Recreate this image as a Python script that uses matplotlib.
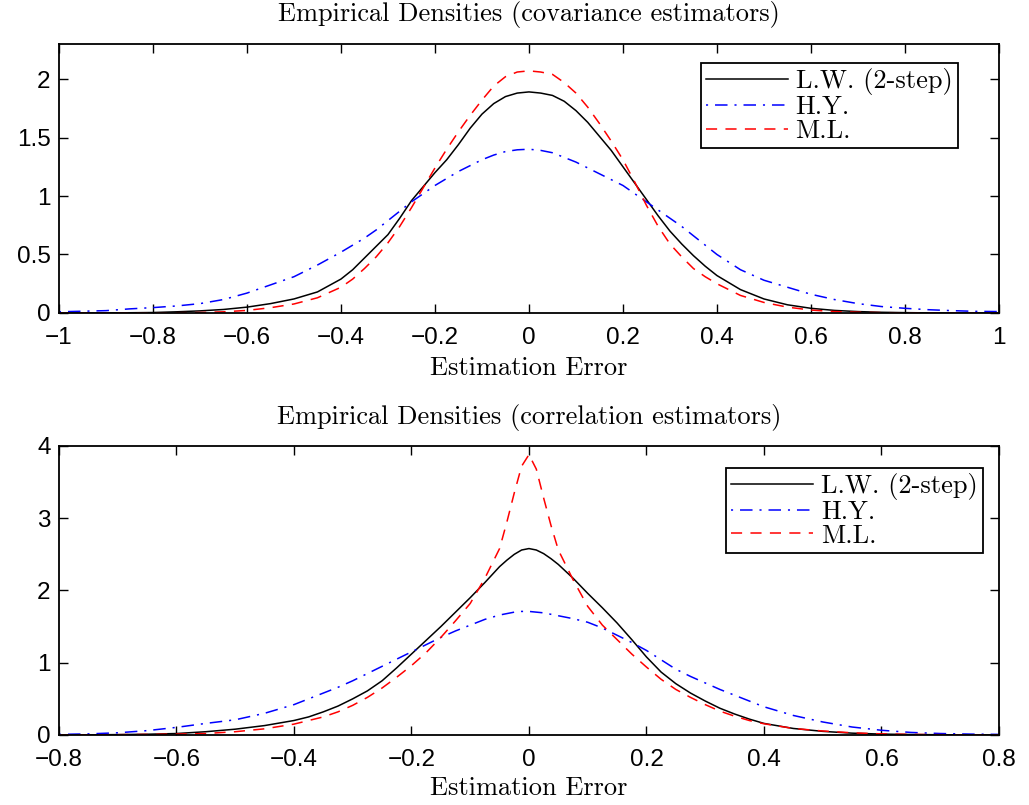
import matplotlib
matplotlib.use("Agg")
import matplotlib.pyplot as plt

# data
x_cov = [-1.0, -0.95, -0.9, -0.85, -0.8, -0.75, -0.7, -0.65, -0.6, -0.55, -0.5, -0.45,
         -0.4, -0.375, -0.35, -0.325, -0.3, -0.275, -0.25, -0.225, -0.2, -0.175,
         -0.15, -0.125, -0.1, -0.075, -0.05, -0.025,
         0.0,
         0.025, 0.05, 0.075, 0.1, 0.125, 0.15, 0.175, 0.2, 0.225, 0.25,
         0.275, 0.3, 0.325, 0.35, 0.375, 0.4,
         0.45, 0.5, 0.55, 0.6, 0.65, 0.7, 0.75, 0.8, 0.85, 0.9, 0.95, 1.0]
lw_cov = [0.0, 0.0, 0.001, 0.002, 0.004, 0.01, 0.018, 0.03, 0.05, 0.08, 0.12, 0.18,
          0.29, 0.37, 0.47, 0.57, 0.67, 0.81, 0.96, 1.08, 1.20, 1.31,
          1.44, 1.58, 1.70, 1.79, 1.85, 1.88,
          1.89,
          1.88, 1.86, 1.81, 1.73, 1.63, 1.51, 1.39, 1.25, 1.11, 0.97,
          0.83, 0.70, 0.59, 0.49, 0.40, 0.32,
          0.20, 0.12, 0.07, 0.04, 0.022, 0.012, 0.006, 0.003, 0.001, 0.0, 0.0, 0.0]
hy_cov = [0.01, 0.015, 0.02, 0.035, 0.046, 0.06, 0.08, 0.115, 0.17, 0.24, 0.31, 0.41,
          0.52, 0.58, 0.64, 0.71, 0.79, 0.87, 0.95, 1.02, 1.09, 1.15,
          1.21, 1.26, 1.31, 1.35, 1.38, 1.395,
          1.40,
          1.39, 1.37, 1.33, 1.29, 1.24, 1.19, 1.14, 1.09, 1.02, 0.95,
          0.88, 0.81, 0.74, 0.66, 0.58, 0.50,
          0.37, 0.28, 0.22, 0.16, 0.115, 0.08, 0.055, 0.04, 0.028, 0.02, 0.014, 0.012]
ml_cov = [0.0, 0.0, 0.0, 0.0, 0.001, 0.002, 0.004, 0.01, 0.022, 0.045, 0.077, 0.13,
          0.22, 0.29, 0.38, 0.48, 0.60, 0.74, 0.90, 1.07, 1.24, 1.40,
          1.55, 1.69, 1.82, 1.94, 2.02, 2.06,
          2.07,
          2.06, 2.04, 1.97, 1.88, 1.76, 1.62, 1.47, 1.31, 1.12, 0.92,
          0.74, 0.59, 0.48, 0.38, 0.31, 0.25,
          0.15, 0.09, 0.05, 0.025, 0.012, 0.006, 0.003, 0.001, 0.0, 0.0, 0.0, 0.0]

x_corr = [-0.8, -0.75, -0.7, -0.65, -0.6, -0.55, -0.5, -0.45,
          -0.4, -0.375, -0.35, -0.325, -0.3, -0.275, -0.25, -0.225, -0.2,
          -0.175, -0.15, -0.125, -0.1, -0.075, -0.05, -0.0375, -0.025, -0.0125,
          0.0,
          0.0125, 0.025, 0.0375, 0.05, 0.075, 0.1, 0.125, 0.15, 0.175,
          0.2, 0.225, 0.25, 0.275, 0.3, 0.325, 0.35, 0.375, 0.4,
          0.45, 0.5, 0.55, 0.6, 0.65, 0.7, 0.75, 0.8]
lw_corr = [0.0, 0.002, 0.005, 0.01, 0.02, 0.045, 0.08, 0.13,
           0.20, 0.25, 0.32, 0.40, 0.50, 0.61, 0.75, 0.93, 1.12,
           1.31, 1.50, 1.70, 1.90, 2.11, 2.33, 2.42, 2.50, 2.56,
           2.58,
           2.56, 2.51, 2.44, 2.36, 2.17, 1.96, 1.76, 1.55, 1.32,
           1.08, 0.87, 0.71, 0.58, 0.47, 0.37, 0.29, 0.22, 0.16,
           0.09, 0.05, 0.025, 0.012, 0.006, 0.003, 0.001, 0.0]
hy_corr = [0.008, 0.015, 0.03, 0.06, 0.105, 0.16, 0.21, 0.30,
           0.42, 0.50, 0.58, 0.66, 0.75, 0.85, 0.95, 1.05, 1.15,
           1.25, 1.35, 1.44, 1.52, 1.60, 1.66, 1.68, 1.70, 1.71,
           1.71,
           1.70, 1.69, 1.67, 1.65, 1.61, 1.56, 1.48, 1.38, 1.28,
           1.17, 1.04, 0.91, 0.81, 0.72, 0.63, 0.55, 0.47, 0.39,
           0.27, 0.18, 0.11, 0.065, 0.035, 0.02, 0.012, 0.008]
ml_corr = [0.0, 0.002, 0.004, 0.008, 0.012, 0.02, 0.045, 0.085,
           0.15, 0.20, 0.25, 0.32, 0.41, 0.52, 0.65, 0.80, 0.96,
           1.14, 1.35, 1.58, 1.82, 2.17, 2.58, 2.95, 3.35, 3.72,
           3.88,
           3.68, 3.28, 2.90, 2.56, 2.15, 1.78, 1.52, 1.32, 1.12,
           0.94, 0.77, 0.63, 0.52, 0.42, 0.33, 0.26, 0.20, 0.155,
           0.09, 0.055, 0.03, 0.015, 0.008, 0.004, 0.002, 0.0]

series_names = ["L.W. (2-step)", "H.Y.", "M.L."]
titles = ["Empirical Densities (covariance estimators)",
          "Empirical Densities (correlation estimators)"]
xlabel = "Estimation Error"

xt_cov = [-1, -0.8, -0.6, -0.4, -0.2, 0, 0.2, 0.4, 0.6, 0.8, 1]
xtl_cov = ["\u22121", "\u22120.8", "\u22120.6", "\u22120.4", "\u22120.2", "0",
           "0.2", "0.4", "0.6", "0.8", "1"]
yt_cov = [0, 0.5, 1, 1.5, 2]
ytl_cov = ["0", "0.5", "1", "1.5", "2"]
xt_corr = [-0.8, -0.6, -0.4, -0.2, 0, 0.2, 0.4, 0.6, 0.8]
xtl_corr = ["\u22120.8", "\u22120.6", "\u22120.4", "\u22120.2", "0",
            "0.2", "0.4", "0.6", "0.8"]
yt_corr = [0, 1, 2, 3, 4]
ytl_corr = ["0", "1", "2", "3", "4"]

plt.rcParams["lines.scale_dashes"] = False
serif = ["cmr10", "DejaVu Serif"]
tickfont = ["Liberation Sans", "DejaVu Sans"]

fig = plt.figure(figsize=(10.29, 8.05), dpi=100)
ax1 = fig.add_axes([0.0573, 0.6112, 0.9135, 0.3342])
ax2 = fig.add_axes([0.0573, 0.0870, 0.9135, 0.3590])

styles = [dict(color="k", ls="-"),
          dict(color="#0000ff", ls=(14, (9, 5, 1.5, 5))),
          dict(color="#ff0000", ls=(0, (8, 6)))]

panels = [
    (ax1, x_cov, [lw_cov, hy_cov, ml_cov], (-1, 1), (0, 2.3), xt_cov, xtl_cov, yt_cov, ytl_cov,
     titles[0], 1.108, -0.204, (0.956, 0.929)),
    (ax2, x_corr, [lw_corr, hy_corr, ml_corr], (-0.8, 0.8), (0, 4), xt_corr, xtl_corr, yt_corr, ytl_corr,
     titles[1], 1.100, -0.183, (0.983, 0.924)),
]

for ax, xs, ys, xl, yl, xt, xtl, yt, ytl, title, ty, ly, lpos in panels:
    for y, name, st in zip(ys, series_names, styles):
        ax.plot(xs, y, lw=1.1, label=name, **st)
    ax.set_xlim(*xl)
    ax.set_ylim(*yl)
    ax.set_xticks(xt)
    ax.set_xticklabels(xtl, fontfamily=tickfont, fontsize=17.5)
    ax.set_yticks(yt)
    ax.set_yticklabels(ytl, fontfamily=tickfont, fontsize=17.5)
    ax.tick_params(direction="in", length=6.5, width=1.0, top=True, right=True)
    ax.tick_params(axis="x", pad=10)
    ax.tick_params(axis="y", pad=6)
    for sp in ax.spines.values():
        sp.set_linewidth(1.3)
    ax.text(0.5, ty, title, transform=ax.transAxes, ha="center", va="center",
            family=serif, fontsize=19)
    ax.text(0.5, ly, xlabel, transform=ax.transAxes, ha="center", va="center",
            family=serif, fontsize=19)
    leg = ax.legend(loc="upper right", bbox_to_anchor=lpos, prop={"family": serif, "size": 19},
                    frameon=True, fancybox=False, framealpha=1, edgecolor="k",
                    handlelength=3.1, handletextpad=0.3, labelspacing=0.0,
                    borderpad=0.2, borderaxespad=0)
    leg.get_frame().set_linewidth(1.3)

fig.savefig("out.png", dpi=100)
